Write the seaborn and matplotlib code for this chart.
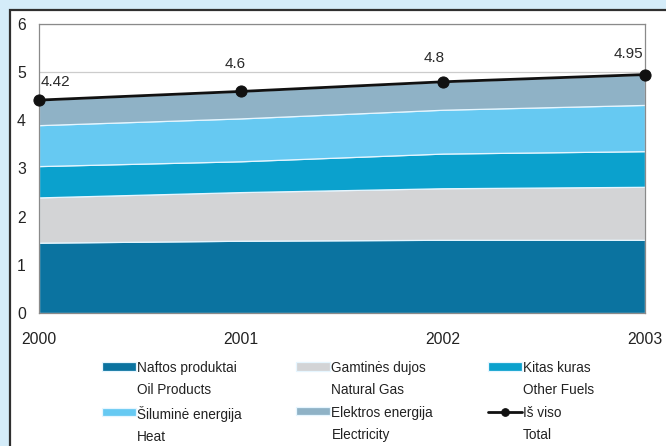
import numpy as np
import pandas as pd
import seaborn as sns
import matplotlib.pyplot as plt
from matplotlib.patches import Rectangle
from matplotlib.lines import Line2D
from matplotlib.offsetbox import DrawingArea

years = [2000, 2001, 2002, 2003]
oil = [1.46, 1.50, 1.52, 1.52]
gas = [0.94, 1.01, 1.07, 1.10]
other = [0.65, 0.64, 0.72, 0.74]
heat = [0.85, 0.89, 0.91, 0.96]
elec = [0.52, 0.56, 0.58, 0.63]
total = [4.42, 4.6, 4.8, 4.95]
total_labels = ['4.42', '4.6', '4.8', '4.95']

layer_names = ['Naftos produktai\nOil Products', 'Gamtinės dujos\nNatural Gas',
               'Kitas kuras\nOther Fuels', 'Šiluminė energija\nHeat',
               'Elektros energija\nElectricity']
total_name = 'Iš viso\nTotal'
colors = ['#0b73a0', '#d3d4d6', '#0ba1cd', '#66c9f2', '#8fb2c6']

sns.set_style('white')
plt.rcParams['font.family'] = ['Liberation Sans', 'DejaVu Sans']

fig = plt.figure(figsize=(6.66, 4.46), dpi=100)
fig.patch.set_facecolor('#d4ecf9')
# framed white panel
fig.add_artist(Rectangle((9.5 / 666, -0.05), 1.0, 1 - 9.5 / 446 + 0.05,
                         transform=fig.transFigure, facecolor='white',
                         edgecolor='#2f2f2f', linewidth=1.6, zorder=0))

ax = fig.add_axes([39 / 666, 1 - 313 / 446, 606 / 666, 289 / 446])
ax.set_facecolor('white')
ax.set_zorder(1)

stacks = ax.stackplot(years, oil, gas, other, heat, elec, colors=colors,
                      labels=layer_names, edgecolor='#e6f6ff', linewidth=0.9,
                      zorder=2)

df = pd.DataFrame({'year': years, 'total': total})
sns.lineplot(data=df, x='year', y='total', ax=ax, color='#111111', linewidth=2,
             marker='o', markersize=8, markeredgecolor='#111111',
             label=total_name, zorder=4, clip_on=False, legend=False)

# label offsets in points (x, y) from each total point
offsets = [(1.5, 13), (-4, 19.5), (-6, 17), (-1.5, 14.5)]
aligns = ['left', 'center', 'center', 'right']
for x, y, t, off, ha in zip(years, total, total_labels, offsets, aligns):
    ax.annotate(t, (x, y), xytext=off, textcoords='offset points', ha=ha,
                va='center', fontsize=11, color='#2a2a2a', zorder=5)

ax.set_xlim(2000, 2003)
ax.set_ylim(0, 6)
ax.set_xticks(years)
ax.set_xticklabels([str(y) for y in years])
ax.set_yticks(range(0, 7))
ax.yaxis.grid(True, color='#cccccc', linewidth=0.9)
ax.set_axisbelow(True)
for s in ax.spines.values():
    s.set_color('#8a8a8a')
    s.set_linewidth(0.9)
ax.tick_params(axis='both', labelsize=11.3, colors='#222222',
               color='#bbbbbb', direction='out')
ax.tick_params(axis='y', length=3, pad=6.5)
ax.tick_params(axis='x', length=5, pad=9)
ax.set_xlabel('')
ax.set_ylabel('')

handles = list(stacks) + [ax.get_lines()[0]]
labels = layer_names + [total_name]
order = [0, 3, 1, 4, 2, 5]
leg = fig.legend([handles[i] for i in order], [labels[i] for i in order],
                 loc='upper left', bbox_to_anchor=(102 / 666, 1 - 361 / 446),
                 ncol=3, frameon=False, fontsize=9.8, handlelength=2.5,
                 handleheight=0.55, handletextpad=0.08, columnspacing=4.0,
                 borderpad=0, borderaxespad=0, labelspacing=0.65)
for t in leg.get_texts():
    t.set_linespacing(1.72)
    t.set_color('#222222')

# lift legend keys up to the first (Lithuanian) line of each label
shift = 9.4
for da in leg.findobj(DrawingArea):
    for art in da.get_children():
        if isinstance(art, Rectangle):
            art.set_y(art.get_y() + shift)
        elif isinstance(art, Line2D):
            art.set_ydata(np.asarray(art.get_ydata()) + shift)
            art.set_markersize(5.5)

fig.savefig('out.png', dpi=100, facecolor=fig.get_facecolor())
plt.close(fig)
